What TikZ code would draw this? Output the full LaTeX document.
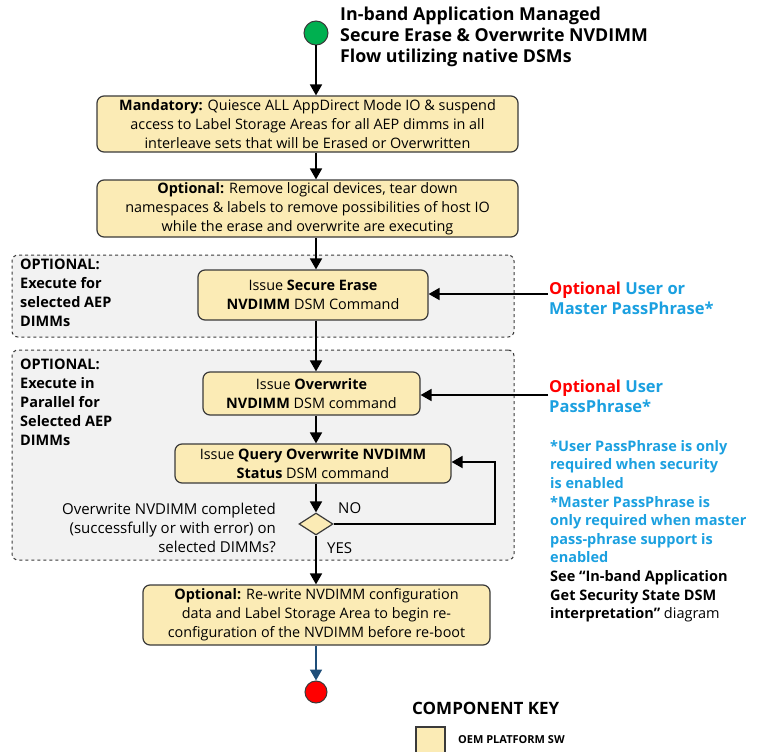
\documentclass[tikz,border=0pt]{standalone}
\usepackage{fontspec}
\setmainfont{Open Sans}
\usetikzlibrary{arrows.meta,shapes.geometric}
\definecolor{boxfill}{HTML}{FBEBB5}
\definecolor{boxline}{HTML}{3A3A3A}
\definecolor{grpfill}{HTML}{F2F2F2}
\definecolor{ppblue}{HTML}{1BA0E0}
\definecolor{darkblue}{HTML}{1F4E79}
\definecolor{startgreen}{HTML}{00B050}
\definecolor{endred}{HTML}{FF0000}
\tikzset{
  box/.style={draw=boxline, fill=boxfill, rounded corners=7pt, line width=1.2pt, align=center,
    inner sep=0pt, font={\fontsize{14.4}{19}\selectfont}},
  grp/.style={draw=boxline, fill=grpfill, dashed, rounded corners=6pt, line width=1pt, inner sep=0pt},
  grplabel/.style={anchor=north west, align=left, inner sep=0pt, font={\bfseries\fontsize{14.5}{19}\selectfont}},
  flowarrow/.style={line width=1.8pt, arrows={-{Triangle[length=11pt,width=12pt]}}},
  ppnote/.style={anchor=north west, align=left, inner sep=0pt, font={\bfseries\fontsize{16.5}{20}\selectfont}, text=ppblue},
  lbl/.style={inner sep=0pt, font={\fontsize{15}{19}\selectfont}}
}
\begin{document}
\begin{tikzpicture}[x=1pt,y=-1pt]
\useasboundingbox (0,0) rectangle (769,752);

% groups
\node[grp, minimum width=502pt, minimum height=82pt] (g1) at (263,296) {};
\node[grp, minimum width=502pt, minimum height=210pt] (g2) at (263,455) {};
\node[grplabel] (g1l) at (20,259) {OPTIONAL:\\Execute for\\selected AEP\\DIMMs};
\node[grplabel] (g2l) at (20,359) {OPTIONAL:\\Execute in\\Parallel for\\Selected AEP\\DIMMs};

% start / title
\node[circle, draw=boxline, fill=startgreen, line width=1pt, minimum size=24pt, inner sep=0pt] (start) at (316,33) {};
\node[anchor=north west, align=left, inner sep=0pt, text=black,
  font={\bfseries\fontsize{17.8}{21}\selectfont}] (title) at (340,7)
  {In-band Application Managed\\Secure Erase \& Overwrite NVDIMM\\Flow utilizing native DSMs};

% boxes
\node[box, minimum width=421pt, minimum height=56pt] (b1) at (307.5,124)
  {\textbf{Mandatory:} Quiesce ALL AppDirect Mode IO \& suspend\\access to Label Storage Areas for all AEP dimms in all\\interleave sets that will be Erased or Overwritten};
\node[box, minimum width=421pt, minimum height=57pt] (b2) at (307.5,208.5)
  {\textbf{Optional:} Remove logical devices, tear down\\namespaces \& labels to remove possibilities of host IO\\while the erase and overwrite are executing};
\node[box, minimum width=230pt, minimum height=50pt] (b3) at (313,295)
  {Issue \textbf{Secure Erase}\\\textbf{NVDIMM} DSM Command};
\node[box, minimum width=217pt, minimum height=43pt] (b4) at (311.5,393.5)
  {Issue \textbf{Overwrite}\\\textbf{NVDIMM} DSM command};
\node[box, minimum width=276pt, minimum height=39pt] (b5) at (313,463.5)
  {Issue \textbf{Query Overwrite NVDIMM}\\\textbf{Status} DSM command};
\node[diamond, draw=boxline, fill=boxfill, line width=1.2pt, minimum width=34pt, minimum height=22pt, inner sep=0pt] (d) at (316,524) {};
\node[box, minimum width=347pt, minimum height=60pt] (b6) at (316.5,615)
  {\textbf{Optional:} Re-write NVDIMM configuration\\data and Label Storage Area to begin re-\\configuration of the NVDIMM before re-boot};
\node[circle, draw=boxline, fill=endred, line width=1pt, minimum size=22pt, inner sep=0pt] (end) at (316,692) {};

% main flow arrows
\draw[flowarrow] (start) -- (start |- b1.north);
\draw[flowarrow] (start |- b1.south) -- (start |- b2.north);
\draw[flowarrow] (start |- b2.south) -- (start |- b3.north);
\draw[flowarrow] (start |- b3.south) -- (start |- b4.north);
\draw[flowarrow] (start |- b4.south) -- (start |- b5.north);
\draw[flowarrow] (start |- b5.south) -- (d.north);
\draw[flowarrow] (d.south) -- (start |- b6.north);
\draw[flowarrow, draw=darkblue, fill=darkblue] (start |- b6.south) -- (end.north);

% NO loop
\coordinate (lp) at (495,462);
\draw[flowarrow] (d.east) -| (lp) -- (b5.east |- lp);
\node[lbl, anchor=west] (no) at (338,508) {NO};
\node[lbl, anchor=west] (yes) at (327,548) {YES};
\node[lbl, anchor=east, align=right] (q) at (276,528)
  {Overwrite NVDIMM completed\\(successfully or with error) on\\selected DIMMs?};

% passphrase inputs
\coordinate (p1) at (548,294);
\coordinate (p2) at (548,395);
\draw[flowarrow] (p1) -- (b3.east |- p1);
\draw[flowarrow] (p2) -- (b4.east |- p2);
\node[ppnote] (pp1) at (549,282) {\textcolor{endred}{Optional} User or\\Master PassPhrase*};
\node[ppnote] (pp2) at (549,380) {\textcolor{endred}{Optional} User\\PassPhrase*};

% footnotes
\node[anchor=north west, align=left, inner sep=0pt, font={\bfseries\fontsize{14.5}{18.6}\selectfont}, text=ppblue] (fn) at (550,440)
  {*User PassPhrase is only\\required when security\\is enabled\\*Master PassPhrase is\\only required when master\\pass-phrase support is\\enabled\\
   \textcolor{black}{See ``In-band Application}\\\textcolor{black}{Get Security State DSM}\\\textcolor{black}{interpretation'' \mdseries diagram}};

% component key
\node[anchor=west, inner sep=0pt, font={\bfseries\fontsize{17}{20}\selectfont}] (ck) at (412,708) {COMPONENT KEY};
\node[draw=boxline, fill=boxfill, line width=1.2pt, minimum width=29pt, minimum height=26pt, inner sep=0pt] (kbox) at (430.5,740) {};
\node[anchor=west, inner sep=0pt, font={\bfseries\fontsize{11}{13}\selectfont}] (kl) at (458,740) {OEM PLATFORM SW};
\end{tikzpicture}
\end{document}
